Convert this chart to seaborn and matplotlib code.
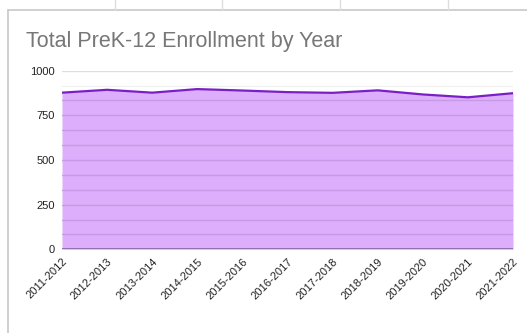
import matplotlib
matplotlib.use("Agg")
import matplotlib.pyplot as plt
from matplotlib.lines import Line2D
import seaborn as sns
import pandas as pd
import numpy as np

years = ["2011-2012", "2012-2013", "2013-2014", "2014-2015", "2015-2016", "2016-2017",
         "2017-2018", "2018-2019", "2019-2020", "2020-2021", "2021-2022"]
enrollment = [877, 893, 877, 897, 889, 880, 876, 890, 867, 851, 874]
y_ticks = [0, 250, 500, 750, 1000]
title = "Total PreK-12 Enrollment by Year"

df = pd.DataFrame({"year": years, "enrollment": enrollment})

sns.set_theme(style="white")
plt.rcParams["font.family"] = ["Liberation Sans", "DejaVu Sans"]

fig = plt.figure(figsize=(5.27, 3.33), dpi=100)
ax = fig.add_axes([62 / 527, 1 - 249.3 / 333, (513 - 62) / 527, (249.3 - 70.7) / 333])

grid_vals = np.arange(0, 1000.1, 250 / 3)
# gridlines outside the area
for v in grid_vals:
    ax.axhline(v, color="#f0f0f0", lw=0.8, zorder=0)
for v in y_ticks:
    ax.axhline(v, color="#dedede", lw=0.9, zorder=0)

poly = ax.fill_between(range(len(years)), enrollment, 0, color="#ddaefb", lw=0, zorder=1)
clip = poly.get_paths()[0]
# gridlines seen through the area
for v in grid_vals:
    ln = ax.axhline(v, color="#c79ae6", lw=1.0, zorder=2)
    ln.set_clip_path(clip, ax.transData)
sns.lineplot(data=df, x="year", y="enrollment", ax=ax, color="#7a1fc8", lw=1.6, zorder=3, sort=False)
ax.axhline(0, color="#8e6aa8", lw=1.3, zorder=4)

ax.set_xlim(0, len(years) - 1)
ax.set_ylim(0, 1000)
ax.set_yticks(y_ticks)
ax.set_yticklabels([str(v) for v in y_ticks], fontsize=8, color="#222222")
ax.set_xticks(range(len(years)))
ax.set_xticklabels(years, rotation=45, ha="right", rotation_mode="anchor", fontsize=8, color="#222222")
ax.tick_params(axis="both", length=0, pad=5)
ax.set_xlabel("")
ax.set_ylabel("")
for s in ax.spines.values():
    s.set_visible(False)

fig.text(26 / 527, 1 - 42 / 333, title, fontsize=15.5, color="#777777", va="center", ha="left")

# card border and table cells above
fig.add_artist(Line2D([8 / 527, 8 / 527], [0, 1 - 10 / 333], transform=fig.transFigure, color="#c8c8c8", lw=1.2))
fig.add_artist(Line2D([8 / 527, 1], [1 - 10 / 333, 1 - 10 / 333], transform=fig.transFigure, color="#c8c8c8", lw=1.2))
for xv in [115, 222, 340, 448]:
    fig.add_artist(Line2D([xv / 527, xv / 527], [1 - 10 / 333, 1], transform=fig.transFigure, color="#dddddd", lw=1))

fig.savefig("out.png", dpi=100)
